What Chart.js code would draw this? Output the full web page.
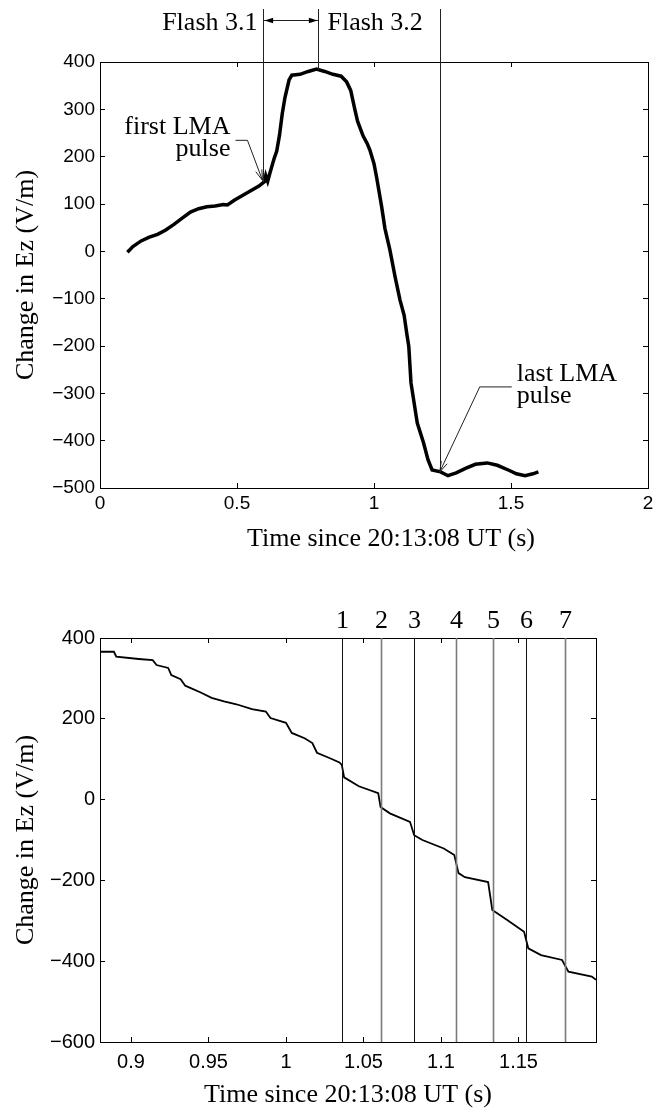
<!DOCTYPE html>
<html><head><meta charset="utf-8">
<script src="https://cdn.jsdelivr.net/npm/chart.js@4.4.1/dist/chart.umd.min.js"></script>
<style>
html,body{margin:0;padding:0;background:#fff;}
#wrap{position:relative;width:663px;height:1108px;}
canvas{position:absolute;left:0;}
</style></head><body>
<div id="wrap">
<canvas id="c1" width="663" height="554" style="top:0px"></canvas>
<canvas id="c2" width="663" height="554" style="top:554px"></canvas>
</div>
<script>
// ---------- data: top panel ----------
const topTime = [0.10,0.12,0.15,0.18,0.21,0.24,0.27,0.30,0.33,0.36,0.39,0.42,0.45,0.465,0.49,0.52,0.55,0.58,0.60,0.605,0.612,0.62,0.635,0.645,0.655,0.665,0.675,0.69,0.70,0.73,0.76,0.79,0.82,0.85,0.88,0.90,0.915,0.93,0.94,0.96,0.975,0.985,1.0,1.01,1.028,1.04,1.058,1.077,1.095,1.11,1.12,1.127,1.135,1.158,1.181,1.197,1.212,1.243,1.27,1.30,1.336,1.37,1.413,1.45,1.49,1.52,1.551,1.58,1.60];
const topEz   = [-2,10,22,30,36,45,57,70,83,90,94,96,99,98,108,118,128,138,147,160,148,165,195,212,245,290,325,362,372,374,380,385,380,374,370,358,340,300,275,244,228,214,185,155,94,48,3,-54,-103,-135,-175,-201,-278,-363,-405,-440,-462,-466,-474,-468,-458,-450,-447,-452,-462,-470,-474,-470,-466];
const topXTicks = [0,0.5,1,1.5,2];
const topXLabels = ['0','0.5','1','1.5','2'];
const topYTicks = [-500,-400,-300,-200,-100,0,100,200,300,400];
const flashLineTimes = [0.594,0.795,1.24];
const flashLineEnds  = [146,384,-467];
const flashLabels = ['Flash 3.1','Flash 3.2'];
const pulseTimes  = [0.593,1.24];
const pulseValues = [150,-466];
const pulseLabels = [['first LMA','pulse'],['last LMA','pulse']];

// ---------- data: bottom panel ----------
const botTime = [0.880,0.889,0.8905,0.905,0.914,0.9165,0.924,0.926,0.932,0.935,0.945,0.952,0.96,0.968,0.978,0.987,0.99,1.0,1.0037,1.012,1.017,1.02,1.028,1.0345,1.036,1.0375,1.047,1.0595,1.061,1.067,1.08,1.0827,1.088,1.1018,1.1086,1.1113,1.1154,1.1304,1.1331,1.1427,1.1536,1.1563,1.1645,1.1781,1.1822,1.1973,1.2];
const botEz   = [366,366,354,348,345,333,326,308,298,282,265,252,243,236,224,218,202,190,165,152,140,116,103,92,86,55,33,16,-18,-34,-55,-88,-100,-121,-137,-182,-192,-204,-273,-298,-327,-368,-385,-397,-426,-438,-446];
const botXTicks = [0.9,0.95,1,1.05,1.1,1.15];
const botXLabels = ['0.9','0.95','1','1.05','1.1','1.15'];
const botYTicks = [-600,-400,-200,0,200,400];
const stepTimes  = [1.0363,1.0613,1.0828,1.1097,1.1334,1.155,1.18];
const stepLabels = ['1','2','3','4','5','6','7'];

const yTitle = 'Change in Ez (V/m)';
const xTitle = 'Time since 20:13:08 UT (s)';

// ---------- styling ----------
const SANS = "'Liberation Sans', Arial, Helvetica, sans-serif";
const SERIF = "'Liberation Serif', 'Times New Roman', Times, serif";
const TITLE_FONT = {family: SERIF, size: 26, lineHeight: 1};
const fmt = v => String(v).replace('-', '\u2212');

function axis(pos, min, max, tickVals, labels, fitSize, titleText, fontSize, pad) {
  const horiz = (pos === 'top' || pos === 'bottom');
  const showLabels = labels !== null;
  return {
    type: 'linear', position: pos, min: min, max: max,
    afterBuildTicks: s => { s.ticks = tickVals.map(v => ({value: v})); },
    afterFit: s => { if (horiz) s.height = fitSize; else s.width = fitSize; },
    ticks: {
      display: showLabels, font: {family: SANS, size: fontSize || 19}, color: '#000', autoSkip: false,
      maxRotation: 0, minRotation: 0, padding: pad || 10,
      callback: (v, i) => showLabels ? labels[i] : ''
    },
    grid: {drawOnChartArea: false, drawTicks: true, tickLength: -5, color: '#000', lineWidth: 1},
    border: {display: true, color: '#000', width: 1},
    title: titleText ? {display: true, text: titleText, color: '#000', font: TITLE_FONT,
      padding: horiz ? {top: 0, bottom: 0} : {top: 13, bottom: 0}} : {display: false}
  };
}

function drawArrowHead(ctx, fx, fy, tx, ty, len, spread) {
  const a = Math.atan2(ty - fy, tx - fx);
  ctx.beginPath();
  ctx.moveTo(tx - len * Math.cos(a - spread), ty - len * Math.sin(a - spread));
  ctx.lineTo(tx, ty);
  ctx.lineTo(tx - len * Math.cos(a + spread), ty - len * Math.sin(a + spread));
  ctx.stroke();
}
function fillArrowHead(ctx, fx, fy, tx, ty, len, spread) {
  const a = Math.atan2(ty - fy, tx - fx);
  ctx.beginPath();
  ctx.moveTo(tx, ty);
  ctx.lineTo(tx - len * Math.cos(a - spread), ty - len * Math.sin(a - spread));
  ctx.lineTo(tx - len * Math.cos(a + spread), ty - len * Math.sin(a + spread));
  ctx.closePath(); ctx.fill();
}

const topAnnot = {
  id: 'topAnnot',
  afterDraw(chart) {
    const {ctx, scales: {x, y}} = chart;
    ctx.save();
    ctx.strokeStyle = '#222'; ctx.fillStyle = '#000'; ctx.lineWidth = 1;
    const px = flashLineTimes.map(t => Math.round(x.getPixelForValue(t)) + 0.5);
    px.forEach((p, i) => {
      ctx.beginPath(); ctx.moveTo(p, 9); ctx.lineTo(p, y.getPixelForValue(flashLineEnds[i])); ctx.stroke();
    });
    const ay = 20.5;
    ctx.beginPath(); ctx.moveTo(px[0], ay); ctx.lineTo(px[1], ay); ctx.stroke();
    fillArrowHead(ctx, px[1], ay, px[0] + 1, ay, 9, 0.3);
    fillArrowHead(ctx, px[0], ay, px[1] - 1, ay, 9, 0.3);
    ctx.font = '26px ' + SERIF; ctx.textBaseline = 'middle';
    ctx.textAlign = 'right'; ctx.fillText(flashLabels[0], px[0] - 6, 23);
    ctx.textAlign = 'left'; ctx.fillText(flashLabels[1], px[1] + 9, 23);
    const t1x = x.getPixelForValue(pulseTimes[0]), t1y = y.getPixelForValue(pulseValues[0]);
    ctx.beginPath(); ctx.moveTo(t1x - 27, t1y - 40); ctx.lineTo(t1x - 15, t1y - 40); ctx.lineTo(t1x, t1y); ctx.stroke();
    drawArrowHead(ctx, t1x - 15, t1y - 40, t1x, t1y, 11, 0.3);
    ctx.textAlign = 'right';
    ctx.fillText(pulseLabels[0][0], t1x - 32, t1y - 53);
    ctx.fillText(pulseLabels[0][1], t1x - 32, t1y - 31);
    const t2x = x.getPixelForValue(pulseTimes[1]), t2y = y.getPixelForValue(pulseValues[1]);
    ctx.beginPath(); ctx.moveTo(t2x + 72, t2y - 85); ctx.lineTo(t2x + 40, t2y - 85); ctx.lineTo(t2x, t2y); ctx.stroke();
    drawArrowHead(ctx, t2x + 40, t2y - 85, t2x, t2y, 11, 0.3);
    ctx.textAlign = 'left';
    ctx.fillText(pulseLabels[1][0], t2x + 77, t2y - 98);
    ctx.fillText(pulseLabels[1][1], t2x + 77, t2y - 76);
    ctx.textAlign = 'center';
    ctx.fillText(xTitle, 391, 539);
    ctx.restore();
  }
};

const botAnnot = {
  id: 'botAnnot',
  afterDraw(chart) {
    const {ctx, chartArea, scales: {x}} = chart;
    const dark = [true, false, true, false, false, true, false];
    ctx.save();
    ctx.font = '26px ' + SERIF; ctx.fillStyle = '#000';
    ctx.textAlign = 'center'; ctx.textBaseline = 'middle';
    stepTimes.forEach((t, i) => {
      const p = Math.round(x.getPixelForValue(t)) + 0.5;
      ctx.strokeStyle = dark[i] ? '#111' : '#7a7a7a';
      ctx.lineWidth = dark[i] ? 1 : 1.6;
      ctx.beginPath(); ctx.moveTo(p, chartArea.top); ctx.lineTo(p, chartArea.bottom); ctx.stroke();
      ctx.fillText(stepLabels[i], p, chartArea.top - 17);
    });
    ctx.restore();
  }
};

const common = {
  responsive: false, animation: false, devicePixelRatio: 1,
  plugins: {legend: {display: false}, tooltip: {enabled: false}, title: {display: false}},
  events: []
};

new Chart(document.getElementById('c1'), {
  type: 'line',
  data: {datasets: [{
    data: topTime.map((t, i) => ({x: t, y: topEz[i]})),
    borderColor: '#000', borderWidth: 3.5, pointRadius: 0, tension: 0, fill: false,
    xAxisID: 'x', yAxisID: 'y'
  }]},
  options: Object.assign({}, common, {
    layout: {padding: {top: 62, right: 15, left: 0, bottom: 0}},
    scales: {
      x: axis('bottom', 0, 2, topXTicks, topXLabels, 66, null, 19, 9),
      x2: axis('top', 0, 2, topXTicks, null, 0, null),
      y: axis('left', -500, 400, topYTicks, topYTicks.map(fmt), 100, yTitle, 19, 10),
      y2: axis('right', -500, 400, topYTicks, null, 0, null)
    }
  }),
  plugins: [topAnnot]
});

new Chart(document.getElementById('c2'), {
  type: 'line',
  data: {datasets: [{
    data: botTime.map((t, i) => ({x: t, y: botEz[i]})),
    borderColor: '#000', borderWidth: 1.8, pointRadius: 0, tension: 0, fill: false,
    xAxisID: 'x', yAxisID: 'y'
  }]},
  options: Object.assign({}, common, {
    layout: {padding: {top: 84, right: 67, left: 0, bottom: 0}},
    scales: {
      x: axis('bottom', 0.88, 1.2, botXTicks, botXLabels, 66, xTitle, 20, 13),
      x2: axis('top', 0.88, 1.2, botXTicks, null, 0, null),
      y: axis('left', -600, 400, botYTicks, botYTicks.map(fmt), 100, yTitle, 20, 10),
      y2: axis('right', -600, 400, botYTicks, null, 0, null)
    }
  }),
  plugins: [botAnnot]
});
</script>
</body></html>
